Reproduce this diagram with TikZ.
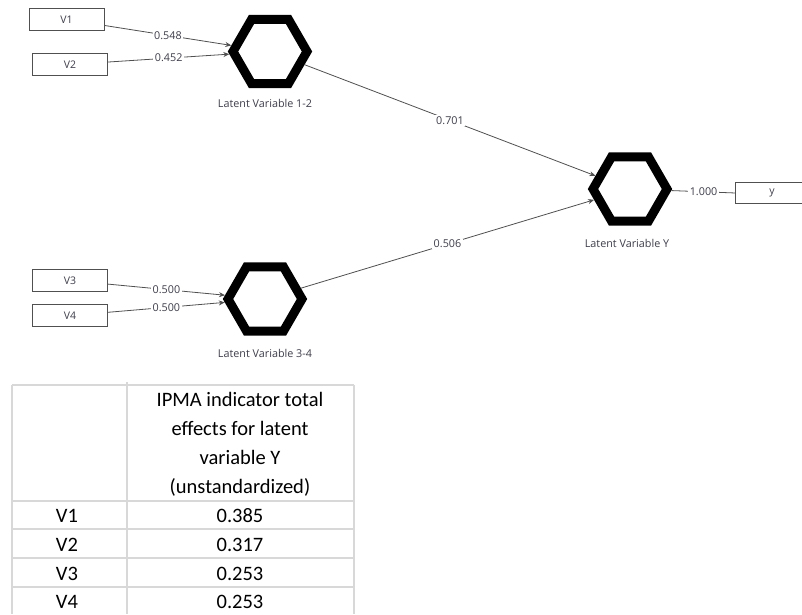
\documentclass[tikz,border=0pt]{standalone}
\usepackage{fontspec}
\setmainfont{Carlito}
\newfontfamily\uifont{Open Sans}
\usetikzlibrary{shapes.geometric,arrows.meta}
\definecolor{txtgray}{HTML}{3E3E4A}
\definecolor{linegray}{HTML}{505050}
\definecolor{gridgray}{HTML}{D8D8D8}
\begin{document}
\begin{tikzpicture}[x=1pt,y=-1pt,
  indbox/.style={draw=linegray,line width=0.9pt,minimum width=75pt,minimum height=22pt,inner sep=0pt,font=\uifont\fontsize{10.5}{12}\selectfont,text=txtgray},
  latent/.style={regular polygon,regular polygon sides=6,draw=black,line width=9pt,minimum size=74pt,inner sep=0pt,fill=white},
  latlabel/.style={font=\uifont\fontsize{10.8}{12}\selectfont,text=txtgray,inner sep=0pt},
  conn/.style={draw=linegray,line width=0.8pt},
  arr/.style={conn,-{Stealth[length=6pt,width=5pt]}},
  coef/.style={font=\uifont\fontsize{10.8}{12}\selectfont,text=txtgray,fill=white,inner sep=1.5pt},
  grid/.style={draw=gridgray,line width=1.3pt},
  cell/.style={font=\fontsize{20.5}{29}\selectfont,text=black,inner sep=0pt}
]
\useasboundingbox (0,0) rectangle (802,614);
\fill[white] (0,0) rectangle (802,614);

% indicator boxes
\node[indbox] (v1) at (66.5,19.5) {V1};
\node[indbox] (v2) at (70,64.5) {V2};
\node[indbox] (v3) at (70,280.5) {V3};
\node[indbox] (v4) at (70,315.5) {V4};
\node[inner sep=0pt,minimum width=72pt,minimum height=20pt,font=\uifont\fontsize{10.5}{12}\selectfont,text=txtgray] (ybox) at (772,193) {y};
\draw[linegray,line width=0.9pt] ([xshift=70pt]ybox.north west) -- (ybox.north west) -- (ybox.south west) -- ([xshift=70pt]ybox.south west);

% latent variables
\node[latent] (h12) at (270,51.5) {};
\node[latent] (h34) at (265,299) {};
\node[latent] (hy) at (630,189) {};
\node[latlabel] (l12) at (265,103) {Latent Variable 1-2};
\node[latlabel] (l34) at (265,353) {Latent Variable 3-4};
\node[latlabel] (ly) at (627,243) {Latent Variable Y};

% connectors
\draw[arr] (v1) -- node[coef] (c1) {0.548} (h12);
\draw[arr] (v2) -- node[coef] (c2) {0.452} (h12);
\draw[arr] (v3) -- node[coef] (c3) {0.500} (h34);
\draw[arr] (v4) -- node[coef] (c4) {0.500} (h34);
\draw[arr] (h12) -- node[coef] (c5) {0.701} (hy);
\draw[arr] (h34) -- node[coef] (c6) {0.506} (hy);
\draw[conn] (hy) -- node[coef] (c7) {1.000} (ybox.west);

% table grid
\draw[grid] (12,385) -- (354,385);
\draw[grid] (12,501) -- (354,501);
\draw[grid] (12,529) -- (354,529);
\draw[grid] (12,558) -- (354,558);
\draw[grid] (12,587) -- (354,587);
\draw[grid] (12,385) -- (12,614);
\draw[grid] (127,382) -- (127,614);
\draw[grid] (354,385) -- (354,614);

% table text
\node[cell,align=center] (th) at (240,444) {IPMA indicator total\\effects for latent\\variable Y\\(unstandardized)};
\node[cell] (r1) at (67,516) {V1};
\node[cell] (r2) at (67,544.5) {V2};
\node[cell] (r3) at (67,573.5) {V3};
\node[cell] (r4) at (67,602) {V4};
\node[cell] (e1) at (240,516) {0.385};
\node[cell] (e2) at (240,544.5) {0.317};
\node[cell] (e3) at (240,573.5) {0.253};
\node[cell] (e4) at (240,602) {0.253};
\end{tikzpicture}
\end{document}
